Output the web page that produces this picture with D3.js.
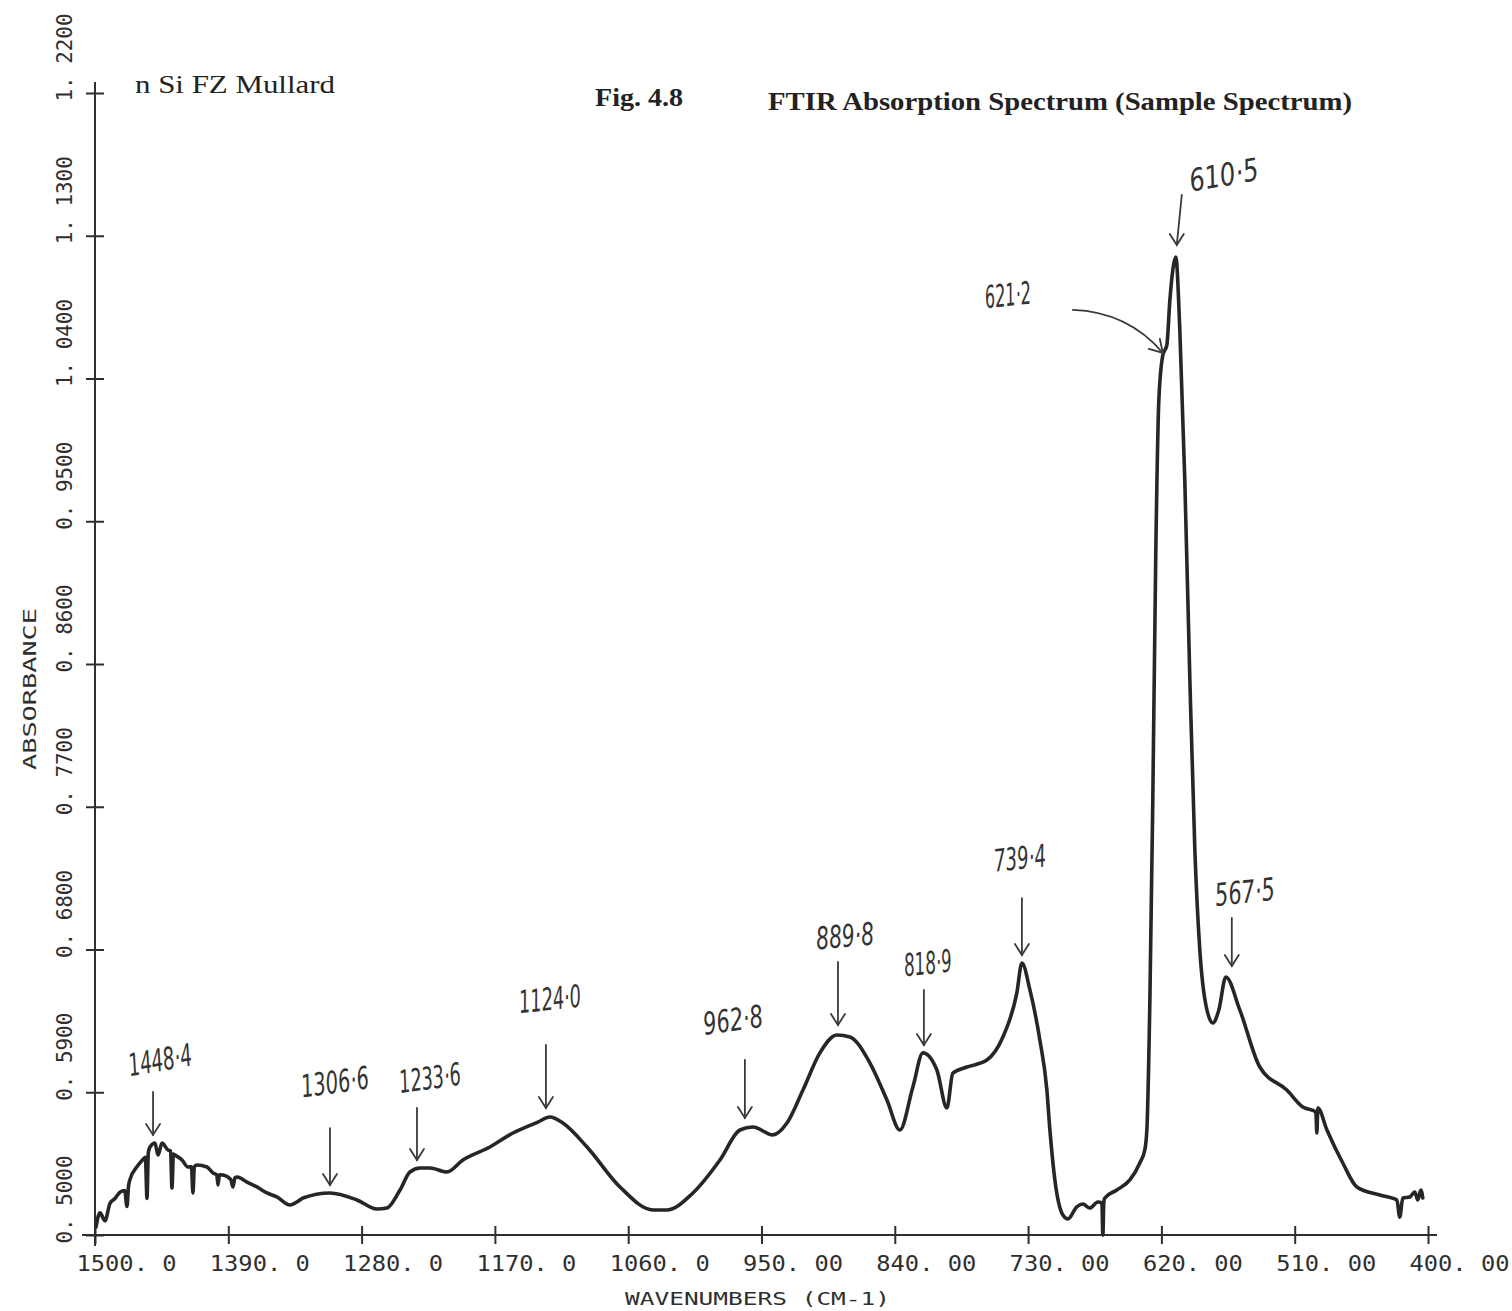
<!DOCTYPE html>
<html><head><meta charset="utf-8">
<script src="https://cdn.jsdelivr.net/npm/d3@7"></script>
<style>html,body{margin:0;padding:0;background:#fff;} svg{display:block;}</style>
</head><body>
<svg id="chart" width="1512" height="1311"></svg>
<script>
// ---------- data ----------
const wavenumber = [
 1499.2,1495.9,1491.8,1487.6,1483.5,1479.4,1475.5,1473.6,1472.3,1471.1,1465.4,1461.2,1458.4,1457.1,1456.0,1454.6,
 1450.5,1448.0,1444.7,1439.8,1437.6,1436.5,1435.3,1434.0,1428.2,1423.3,1420.4,1419.2,1418.0,1415.8,1407.6,1402.6,
 1399.5,1398.5,1397.3,1394.4,1388.0,1386.2,1384.5,1382.8,1374.6,1366.4,1358.1,1349.9,1339.1,1333.4,1328.4,1306.1,
 1283.8,1267.3,1259.1,1248.3,1240.1,1231.8,1223.6,1209.6,1196.4,1174.1,1155.1,1134.5,1124.6,1113.9,1094.0,1066.8,
 1039.6,1028.0,1006.6,984.3,967.8,957.1,940.6,929.0,915.8,901.8,887.8,877.0,860.5,846.5,835.8,825.1,
 816.8,805.3,797.0,792.1,780.5,764.0,750.8,739.3,735.1,728.5,720.3,714.5,712.0,707.9,701.3,697.2,
 689.8,684.8,679.0,672.4,669.1,668.3,667.5,666.7,656.8,646.0,637.8,633.7,632.0,629.5,627.1,624.6,
 622.1,618.8,615.5,613.0,608.1,604.8,600.7,596.5,592.4,588.3,583.3,577.6,572.6,566.8,555.3,538.8,
 516.5,503.3,492.6,491.7,490.9,483.4,470.3,458.7,439.7,425.7,423.3,420.8,415.0,410.9,408.4,405.9,404.3
];
const absorbance = [
 0.505,0.514,0.509,0.520,0.523,0.527,0.528,0.518,0.531,0.535,0.543,0.547,0.549,0.523,0.552,0.5555,
 0.558,0.5504,0.558,0.5536,0.553,0.5296,0.551,0.5504,0.5473,0.5429,0.543,0.5265,0.543,0.5441,0.5429,0.5391,
 0.538,0.5315,0.538,0.5378,0.535,0.5303,0.536,0.5366,0.5334,0.5303,0.5265,0.5240,0.5189,0.5208,0.5233,0.5265,
 0.5221,0.5164,0.5170,0.5284,0.5397,0.5422,0.5422,0.5397,0.5473,0.5555,0.5643,0.5712,0.5744,0.5706,0.5555,0.5303,
 0.5158,0.5158,0.5265,0.5473,0.5662,0.5681,0.5631,0.5706,0.5914,0.6148,0.6261,0.6248,0.6084,0.5851,0.5662,0.5933,
 0.6148,0.6040,0.5801,0.6021,0.6059,0.6103,0.6248,0.6526,0.6715,0.6545,0.6229,0.5914,0.5662,0.5347,0.5126,0.5101,
 0.5177,0.5195,0.5170,0.5208,0.5202,0.5000,0.5210,0.5233,0.5284,0.5347,0.5454,0.5536,0.5662,0.6482,0.7743,0.9319,
 1.0265,1.0548,1.0611,1.0895,1.1166,1.0706,0.9760,0.8499,0.7427,0.6797,0.6450,0.6337,0.6419,0.6627,0.6419,0.6059,
 0.5914,0.5807,0.5776,0.5643,0.5801,0.5662,0.5454,0.5303,0.5252,0.5221,0.5113,0.5233,0.5240,0.5271,0.5221,0.5284,0.5233
];
const xTickValues = [1500,1390,1280,1170,1060,950,840,730,620,510,400];
const xTickLabels = ["1500. 0","1390. 0","1280. 0","1170. 0","1060. 0","950. 00","840. 00","730. 00","620. 00","510. 00","400. 00"];
const yTickValues = [0.50,0.59,0.68,0.77,0.86,0.95,1.04,1.13,1.22];
const yTickLabels = ["0. 5000","0. 5900","0. 6800","0. 7700","0. 8600","0. 9500","1. 0400","1. 1300","1. 2200"];
const peakLabels = ["1448·4","1306·6","1233·6","1124·0","962·8","889·8","818·9","739·4","567·5","610·5","621·2"];
const peakWave   = [1452.1,1306.1,1234.3,1127.9,963.7,886.9,816.0,735.1,561.9,607.3,618.8];
const peakTip    = [0.5631,0.5315,0.5473,0.5801,0.5738,0.6324,0.6198,0.6765,0.6696,1.1242,1.0561];

// ---------- layout ----------
const annoLayout = [
 {len:43, dx:7,  dy:-32, rot:-10, w:64},
 {len:57, dx:5,  dy:-46, rot:-8,  w:68},
 {len:52, dx:13, dy:-30, rot:-8,  w:62},
 {len:63, dx:4,  dy:-46, rot:-6,  w:62},
 {len:58, dx:-12,dy:-40, rot:-8,  w:60},
 {len:63, dx:7,  dy:-26, rot:-5,  w:58},
 {len:55, dx:4,  dy:-27, rot:-6,  w:48},
 {len:57, dx:-2, dy:-40, rot:-6,  w:52},
 {len:48, dx:13, dy:-26, rot:-6,  w:60},
 {len:50, dx:42, dy:-20, rot:-10, w:70, tilt:5},
 {curve:true, w:46}
];

const svg = d3.select("#chart");
svg.append("rect").attr("width",1512).attr("height",1311).attr("fill","#ffffff");
const x = d3.scaleLinear().domain([1500,400]).range([95,1428]);
const y = d3.scaleLinear().domain([0.5,1.22]).range([1235,93]);
const ink = "#2f2f2f";
const monoFont = "'DejaVu Sans Mono','Liberation Mono',monospace";

// axes lines
svg.append("line").attr("x1",82).attr("x2",1437).attr("y1",y(0.5)).attr("y2",y(0.5)).attr("stroke",ink).attr("stroke-width",2);
svg.append("line").attr("x1",x(1500)).attr("x2",x(1500)).attr("y1",82).attr("y2",1246).attr("stroke",ink).attr("stroke-width",2);

// x axis
const gx = svg.append("g").attr("transform",`translate(0,${y(0.5)})`)
  .call(d3.axisBottom(x).tickValues(xTickValues).tickFormat((d,i)=>xTickLabels[i]).tickSizeOuter(0).tickSize(9));
gx.select(".domain").remove();
gx.selectAll(".tick line").attr("y1",-9).attr("y2",9).attr("stroke",ink).attr("stroke-width",2);
gx.selectAll(".tick text").attr("fill",ink).attr("font-family",monoFont).attr("font-size",22)
  .attr("text-anchor","start").attr("x",-19).attr("y",36).attr("dy",0)
  .attr("textLength",100).attr("lengthAdjust","spacingAndGlyphs");

// y axis
const gy = svg.append("g").attr("transform",`translate(${x(1500)},0)`)
  .call(d3.axisLeft(y).tickValues(yTickValues).tickFormat((d,i)=>yTickLabels[i]).tickSizeOuter(0).tickSize(9));
gy.select(".domain").remove();
gy.selectAll(".tick line").attr("x1",-9).attr("x2",9).attr("stroke",ink).attr("stroke-width",2);
gy.selectAll(".tick text").attr("fill",ink).attr("font-family",monoFont).attr("font-size",22)
  .attr("text-anchor","start").attr("transform","rotate(-90)").attr("x",-8).attr("y",-23).attr("dy",0)
  .attr("textLength",88).attr("lengthAdjust","spacingAndGlyphs");

// axis titles
svg.append("text").attr("x",625).attr("y",1305).attr("fill",ink).attr("font-family",monoFont).attr("font-size",18)
  .attr("textLength",265).attr("lengthAdjust","spacingAndGlyphs").text("WAVENUMBERS  (CM-1)");
svg.append("text").attr("transform","translate(36,770) rotate(-90)").attr("fill",ink).attr("font-family",monoFont)
  .attr("font-size",18).attr("textLength",162).attr("lengthAdjust","spacingAndGlyphs").text("ABSORBANCE");

// header texts
const serif = "'Liberation Serif','DejaVu Serif',serif";
svg.append("text").attr("x",135).attr("y",93).attr("font-family",serif).attr("font-size",25).attr("fill","#222")
  .attr("textLength",200).attr("lengthAdjust","spacingAndGlyphs").text("n Si FZ Mullard");
svg.append("text").attr("x",595).attr("y",106).attr("font-family",serif).attr("font-size",25).attr("font-weight","bold").attr("fill","#222")
  .attr("textLength",88).attr("lengthAdjust","spacingAndGlyphs").text("Fig. 4.8");
svg.append("text").attr("x",768).attr("y",110).attr("font-family",serif).attr("font-size",26).attr("font-weight","bold").attr("fill","#222")
  .attr("textLength",584).attr("lengthAdjust","spacingAndGlyphs").text("FTIR Absorption Spectrum (Sample Spectrum)");

// spectrum
const pts = wavenumber.map((w,i)=>[w,absorbance[i]]);
const line = d3.line().x(d=>x(d[0])).y(d=>y(d[1])).curve(d3.curveMonotoneX);
svg.append("path").datum(pts).attr("d",line).attr("fill","none").attr("stroke","#262626")
  .attr("stroke-width",3.6).attr("stroke-linejoin","round").attr("stroke-linecap","round");

// annotations
const hand = "'Liberation Sans Narrow','DejaVu Sans Condensed','Open Sans',sans-serif";
const ga = svg.append("g").attr("fill","none").attr("stroke","#3a3a3a").attr("stroke-width",1.8).attr("stroke-linecap","round");
peakLabels.forEach((lab,i)=>{
  const L = annoLayout[i];
  const tx = x(peakWave[i]), ty = y(peakTip[i]);
  let labX, labY;
  if (L.curve) {
    const sx = tx - 90, sy = ty - 43;
    ga.append("path").attr("d",`M${sx},${sy} Q${tx-35},${sy+2} ${tx},${ty}`);
    ga.append("path").attr("d",`M${tx-14},${ty-4} L${tx},${ty} L${tx-3},${ty-14}`);
    labX = sx - 65; labY = sy - 15;
  } else {
    const tilt = L.tilt || 0;
    const bx = tx + tilt, by = ty - L.len;
    ga.append("path").attr("d",`M${bx},${by} L${tx},${ty}`);
    ga.append("path").attr("d",`M${tx-7},${ty-11} L${tx},${ty} L${tx+7},${ty-11}`);
    labX = bx + L.dx; labY = by + L.dy;
  }
  svg.append("text").attr("transform",`translate(${labX},${labY}) rotate(${L.rot||-6}) scale(1,1.3)`)
    .attr("text-anchor","middle").attr("dy","0.35em").attr("font-family",hand).attr("font-style","italic")
    .attr("font-size",24).attr("fill","#333").attr("textLength",L.w).attr("lengthAdjust","spacingAndGlyphs").text(lab);
});
</script>
</body></html>
